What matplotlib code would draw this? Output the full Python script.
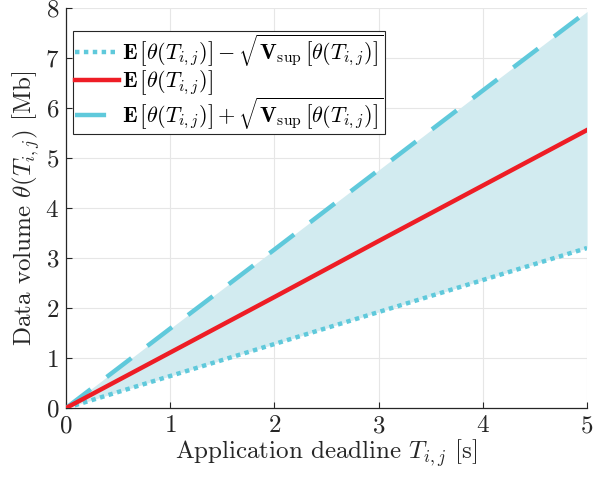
import matplotlib
matplotlib.use("Agg")
import matplotlib.pyplot as plt
import numpy as np

plt.rcParams["font.family"] = "serif"
plt.rcParams["font.serif"] = ["cmr10"]
plt.rcParams["mathtext.fontset"] = "cm"
plt.rcParams["axes.formatter.use_mathtext"] = True

# data
deadline = [0, 1, 2, 3, 4, 5]
mean_vol = [0, 1.11, 2.22, 3.34, 4.45, 5.56]
upper_vol = [0, 1.59, 3.17, 4.76, 6.35, 7.93]
lower_vol = [0, 0.64, 1.28, 1.92, 2.56, 3.20]

CYAN = "#5FC9DB"
RED = "#EE1D25"
FILL = "#D2EBF0"
TXT = "#262626"

fig = plt.figure(figsize=(6.08, 4.78), dpi=100)
ax = fig.add_axes([0.1086, 0.1464, 0.857, 0.8369])

ax.fill_between(deadline, lower_vol, upper_vol, color=FILL, lw=0, zorder=1)
ax.plot(deadline, lower_vol, color=CYAN, lw=3.2, linestyle=(0, (1, 1)), zorder=3,
        label=r"$\mathbf{E}\,\left[\theta(T_{i,j})\right]-\sqrt{\mathbf{V}_{\mathrm{sup}}\,\left[\theta(T_{i,j})\right]}$")
ax.plot(deadline, mean_vol, color=RED, lw=3.2, zorder=4,
        label=r"$\mathbf{E}\,\left[\theta(T_{i,j})\right]$")
ax.plot(deadline, upper_vol, color=CYAN, lw=3.2, linestyle=(0, (7, 4.5)), zorder=3,
        label=r"$\mathbf{E}\,\left[\theta(T_{i,j})\right]+\sqrt{\mathbf{V}_{\mathrm{sup}}\,\left[\theta(T_{i,j})\right]}$")

ax.set_xlim(0, 5)
ax.set_ylim(0, 8)
ax.set_xticks(range(0, 6))
ax.set_yticks(range(0, 9))
ax.grid(True, color="#E6E6E6", lw=0.8, zorder=0)
ax.set_axisbelow(True)
for s in ["top", "right"]:
    ax.spines[s].set_visible(False)
for s in ["left", "bottom"]:
    ax.spines[s].set_color(TXT)
    ax.spines[s].set_linewidth(0.9)
ax.tick_params(direction="in", length=4, labelsize=18, colors=TXT, pad=5)

ax.set_xlabel(r"Application deadline $T_{i,j}$ [s]", fontsize=18, color=TXT, labelpad=0)
ax.set_ylabel(r"Data volume $\theta(T_{i,j})$ [Mb]", fontsize=18, color=TXT, labelpad=2)

leg = ax.legend(loc="upper left", bbox_to_anchor=(0.0, 0.96), fontsize=16,
                fancybox=False, framealpha=1, edgecolor=TXT, handlelength=2.0,
                handletextpad=0.1, borderpad=0.1, labelspacing=-0.05, borderaxespad=0.3)
leg.get_frame().set_linewidth(0.8)

fig.savefig("out.png", dpi=100)
